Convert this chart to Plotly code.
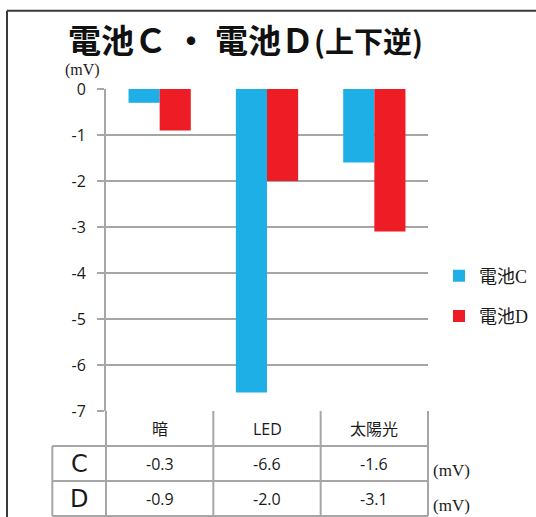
import plotly.graph_objects as go

# ---- data -------------------------------------------------------------
categories = ["暗", "LED", "太陽光"]
series_names = ["電池C", "電池D"]
row_labels = ["C", "D"]
battery_c = [-0.3, -6.6, -1.6]
battery_d = [-0.9, -2.0, -3.1]
y_ticks = [0, -1, -2, -3, -4, -5, -6, -7]
unit_label = "(mV)"
title_main = "電池Ｃ ・ 電池Ｄ"
title_note = "(上下逆)"

# ---- style ------------------------------------------------------------
W, H = 536, 517
BLUE = "#1DAFE6"
RED = "#EE1C25"
GRID = "#A6A6A6"
INK = "#1A1A1A"
FRAME = "#3A3A3A"
SANS = "Open Sans, Noto Sans CJK JP, sans-serif"
SERIF = "Liberation Serif, Noto Sans CJK JP, serif"

# plot area in pixels
L, R, T, B = 106, 428, 89.3, 411.3
ROW_H = 35.0  # table row height in pixels


def paper_x(x):
    """Pixel column -> paper (plot-area) coordinate."""
    return (x - L) / (R - L)


def paper_y(y):
    """Pixel row -> paper (plot-area) coordinate."""
    return (B - y) / (B - T)


n = len(categories)
row_d = ROW_H / (B - T)  # table row height in y-domain units


def col_edge(k):
    """x-domain position of the boundary k between category columns."""
    return k / n


fig = go.Figure()
fig.add_bar(x=categories, y=battery_c, name=series_names[0],
            marker=dict(color=BLUE, line_width=0), legendgroup="c")
fig.add_bar(x=categories, y=battery_d, name=series_names[1],
            marker=dict(color=RED, line_width=0), legendgroup="d")

shapes = []
line_style = dict(color=GRID, width=2)

# data table below the plot: header row, then one row per battery
label_left = col_edge(-0.5)
for k in range(n + 1):
    shapes.append(dict(type="line", xref="x domain", yref="y domain",
                       x0=col_edge(k), x1=col_edge(k), y0=0, y1=-3 * row_d,
                       line=line_style))
shapes.append(dict(type="line", xref="x domain", yref="y domain",
                   x0=label_left, x1=label_left, y0=-row_d, y1=-3 * row_d,
                   line=line_style))
for r in range(1, 4):
    shapes.append(dict(type="line", xref="x domain", yref="y domain",
                       x0=label_left, x1=1, y0=-r * row_d, y1=-r * row_d,
                       line=line_style))

# outer frame (top and left edges; the rest runs off the page)
frame_style = dict(color=FRAME, width=2)
shapes.append(dict(type="line", xref="paper", yref="paper",
                   x0=paper_x(7), x1=paper_x(W + 10),
                   y0=paper_y(11), y1=paper_y(11), line=frame_style))
shapes.append(dict(type="line", xref="paper", yref="paper",
                   x0=paper_x(7), x1=paper_x(7),
                   y0=paper_y(11), y1=paper_y(H + 10), line=frame_style))

cell_font = dict(family=SANS, size=16, color=INK)
annotations = []
for i, cat in enumerate(categories):
    xc = (col_edge(i) + col_edge(i + 1)) / 2
    annotations.append(dict(text=cat, xref="x domain", yref="y domain",
                            x=xc, y=-0.5 * row_d, xanchor="center",
                            yanchor="middle", showarrow=False, font=cell_font))
    for r, vals in enumerate([battery_c, battery_d]):
        annotations.append(dict(text=f"{vals[i]:.1f}", xref="x domain",
                                yref="y domain", x=xc, y=-(r + 1.5) * row_d,
                                xanchor="center", yanchor="middle",
                                showarrow=False, font=cell_font))

for r, lab in enumerate(row_labels):
    annotations.append(dict(text=lab, xref="x domain", yref="y domain",
                            x=(label_left + col_edge(0)) / 2,
                            y=-(r + 1.5) * row_d, xanchor="center",
                            yanchor="middle", showarrow=False,
                            font=dict(family="DejaVu Sans", size=24,
                                      color=INK)))
    annotations.append(dict(text=unit_label, xref="x domain", yref="y domain",
                            x=1, xshift=3, y=-(r + 1.5) * row_d, yshift=-7,
                            xanchor="left", yanchor="middle", showarrow=False,
                            font=dict(family=SERIF, size=17, color=INK)))

# unit of the value axis
annotations.append(dict(text=unit_label, xref="x domain", yref="y domain",
                        x=0, y=1, xanchor="right", yanchor="middle",
                        xshift=-4, yshift=19, showarrow=False,
                        font=dict(family=SERIF, size=16, color=INK)))

fig.update_layout(
    width=W, height=H, autosize=False,
    margin=dict(l=L, r=W - R, t=T, b=H - B, pad=0),
    paper_bgcolor="white", plot_bgcolor="white",
    barmode="group", bargap=0.42, bargroupgap=0,
    font=dict(family=SANS, color=INK),
    title=dict(
        text=f"{title_main}<span style='font-size:29px'>{title_note}</span>",
        x=68 / W, xref="container", xanchor="left",
        y=1 - 41 / H, yref="container", yanchor="middle",
        font=dict(family="Noto Sans CJK JP", size=33, color="#111111",
                  weight="bold"),
    ),
    xaxis=dict(showticklabels=False, showline=False, ticks="",
               showgrid=False, zeroline=False, range=[-0.5, n - 0.5]),
    yaxis=dict(range=[min(y_ticks), max(y_ticks)], tickvals=y_ticks,
               ticktext=[str(v) for v in y_ticks],
               showgrid=True, gridcolor=GRID, gridwidth=2,
               showline=True, linecolor=GRID, linewidth=2,
               ticks="outside", ticklen=7, tickcolor=GRID, tickwidth=2,
               zeroline=False, ticklabelstandoff=8,
               tickfont=dict(family=SANS, size=16, color=INK)),
    showlegend=True,
    legend=dict(x=439 / W, y=1 - 296 / H, xref="container", yref="container",
                xanchor="left", yanchor="middle", traceorder="grouped",
                tracegroupgap=14, bgcolor="rgba(0,0,0,0)",
                font=dict(family=SERIF, size=18, color=INK)),
    shapes=shapes,
    annotations=annotations,
)

fig.write_html("out.html")
